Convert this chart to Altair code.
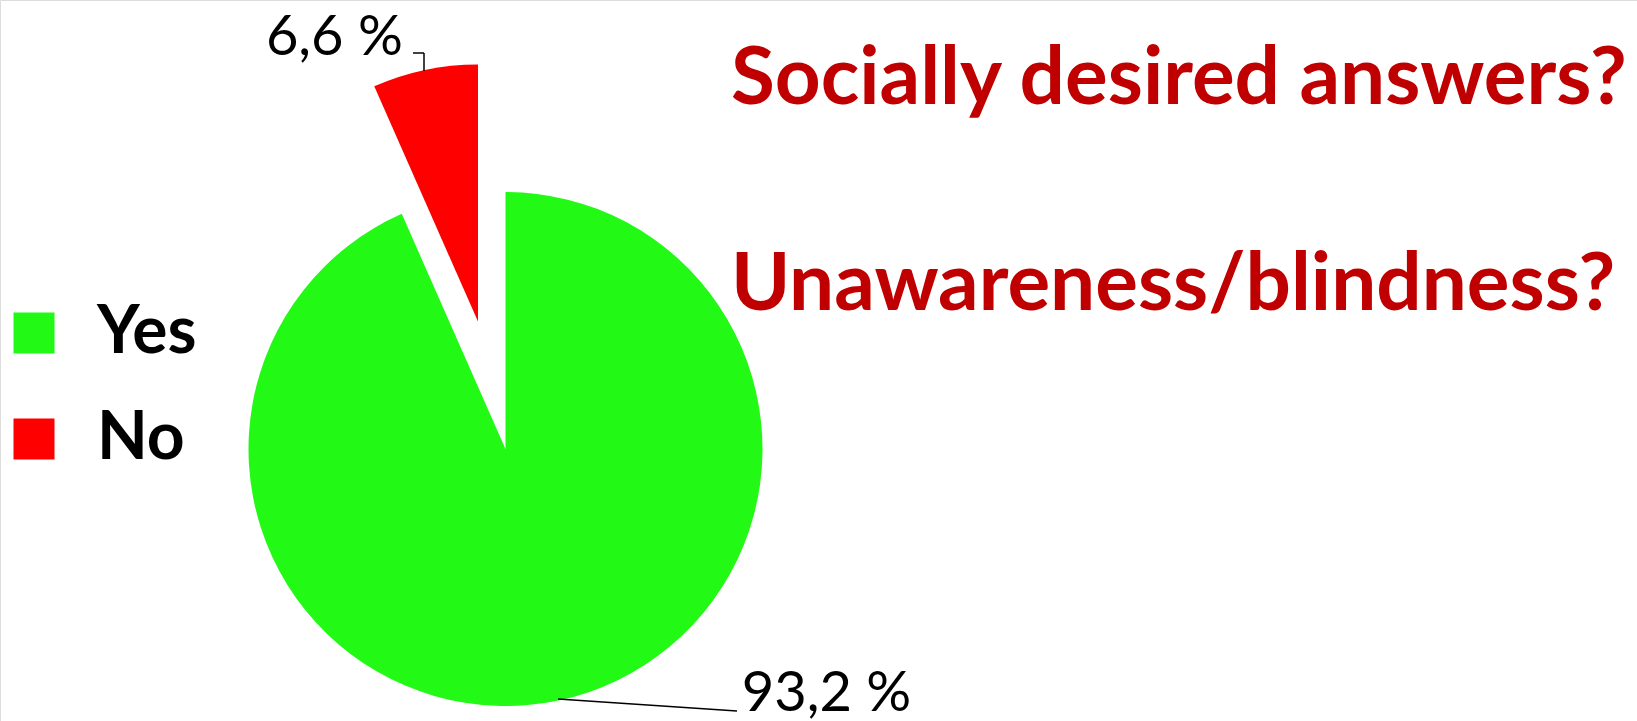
import altair as alt
import pandas as pd

answers = ["Yes", "No"]
shares = [93.2, 6.6]
share_labels = ["93,2 %", "6,6 %"]
order_idx = [0, 1]
colors = ["#22FA16", "#FF0000"]
headlines = ["Socially desired answers?", "Unawareness/blindness?"]

FONT = "Lato"
df = pd.DataFrame({"answer": answers, "share": shares, "label": share_labels, "ord": order_idx})

theta = alt.Theta("share:Q", stack=True)
color = alt.Color(
    "answer:N",
    scale=alt.Scale(domain=answers, range=colors),
    legend=alt.Legend(
        title=None, orient="none", legendX=1, legendY=300,
        symbolType="square", symbolSize=1681, symbolStrokeWidth=0, symbolOpacity=1,
        labelFontSize=66, labelFont=FONT, labelFontWeight="bold", labelColor="black",
        labelOffset=30, rowPadding=40, padding=0,
    ),
)
order = alt.Order("ord:Q")

base = alt.Chart(df)
CX, CY, R = 505.5, 449, 257
RX, RY = 478, 321.5

green = base.mark_arc(radius=R, stroke=None).encode(
    theta=theta, color=color, order=order,
    opacity=alt.condition(alt.datum.answer == "Yes", alt.value(1), alt.value(0)),
    x=alt.value(CX), y=alt.value(CY),
)
red = base.mark_arc(radius=R, stroke=None).encode(
    theta=theta, color=color, order=order,
    opacity=alt.condition(alt.datum.answer == "No", alt.value(1), alt.value(0)),
    x=alt.value(RX), y=alt.value(RY),
)

lab_yes = base.mark_text(
    radius=268, dx=181, align="left", baseline="alphabetic",
    font=FONT, fontSize=56, color="black",
).encode(
    theta=theta, order=order, text="label:N",
    opacity=alt.condition(alt.datum.answer == "Yes", alt.value(1), alt.value(0)),
    x=alt.value(CX), y=alt.value(CY),
)
lab_no = base.mark_text(
    radius=272.5, dx=-19, align="right", baseline="alphabetic",
    font=FONT, fontSize=56, color="black",
).encode(
    theta=theta, order=order, text="label:N",
    opacity=alt.condition(alt.datum.answer == "No", alt.value(1), alt.value(0)),
    x=alt.value(RX), y=alt.value(RY),
)

def seg(x1, y1, x2, y2):
    return alt.Chart(df.head(1)).mark_rule(color="black", strokeWidth=1.5).encode(
        x=alt.value(x1), y=alt.value(y1), x2=alt.value(x2), y2=alt.value(y2)
    )

leaders = seg(413, 53, 424, 53) + seg(424, 53, 424, 71) + seg(558, 699, 737, 711)

heads = alt.Chart(pd.DataFrame({"t": headlines, "row": [0, 1]}))
head1 = heads.transform_filter(alt.datum.row == 0).mark_text(
    align="left", baseline="alphabetic", font=FONT, fontWeight="bold", fontSize=80, color="#C00000"
).encode(text="t:N", x=alt.value(731), y=alt.value(104))
head2 = heads.transform_filter(alt.datum.row == 1).mark_text(
    align="left", baseline="alphabetic", font=FONT, fontWeight="bold", fontSize=80, color="#C00000"
).encode(text="t:N", x=alt.value(731), y=alt.value(310))

chart = alt.layer(green, red, lab_yes, lab_no, leaders, head1, head2).properties(
    width=1637, height=721, padding=0, autosize=alt.AutoSizeParams(type="none")
).configure_view(stroke=None).configure(background="white")

chart.save("out.html", embed_options={"renderer": "svg", "actions": False})
